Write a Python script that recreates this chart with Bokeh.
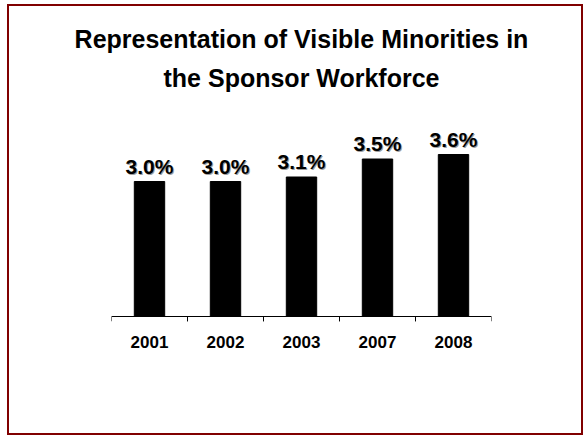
from bokeh.plotting import figure
from bokeh.models import ColumnDataSource, LabelSet, Span, Title, Range1d, FactorRange
from bokeh.core.properties import value
from bokeh.transform import dodge
from bokeh.embed import file_html
from bokeh.resources import INLINE

years = ["2001", "2002", "2003", "2007", "2008"]
values = [3.0, 3.0, 3.1, 3.5, 3.6]
labels = ["3.0%", "3.0%", "3.1%", "3.5%", "3.6%"]
title_lines = ["Representation of Visible Minorities in", "the Sponsor Workforce"]

FONT = "Liberation Sans"

src = ColumnDataSource(dict(years=years, values=values, labels=labels))

p = figure(x_range=FactorRange(*years, range_padding=0),
           y_range=Range1d(-0.111, 4.8),
           width=576, height=431,
           output_backend="svg", toolbar_location=None,
           min_border_left=102, min_border_right=94,
           min_border_bottom=116, min_border_top=94)
p.styles = {"border": "2px solid #800000", "margin-left": "7px", "margin-top": "4px"}

p.outline_line_color = None
p.grid.visible = False
p.yaxis.visible = False

p.vbar(x="years", top="values", bottom=0, width=0.4, source=src,
       fill_color="black", line_color="black")

# axis line and boundary ticks
p.add_layout(Span(location=0, dimension="width", line_color="black", line_width=1))
p.segment(x0=dodge("years", -0.5, range=p.x_range), x1=dodge("years", -0.5, range=p.x_range),
          y0=0, y1=-0.111, source=src, line_color="black", line_width=1)
p.segment(x0=dodge("years", 0.5, range=p.x_range), x1=dodge("years", 0.5, range=p.x_range),
          y0=0, y1=-0.111, source=src, line_color="black", line_width=1)

xa = p.xaxis[0]
xa.axis_line_color = None
xa.major_tick_line_color = None
xa.minor_tick_line_color = None
xa.major_tick_out = 0
xa.major_tick_in = 0
xa.major_label_standoff = 14
xa.major_label_text_font = FONT
xa.major_label_text_font_style = "bold"
xa.major_label_text_font_size = "17px"
xa.major_label_text_color = "black"

p.add_layout(LabelSet(x="years", y="values", text="labels", source=src,
                      text_align="center", text_baseline="alphabetic",
                      x_offset=1, y_offset=7,
                      text_font=value(FONT), text_font_style="bold", text_font_size="21px",
                      text_color="#a0a0a0"))
p.add_layout(LabelSet(x="years", y="values", text="labels", source=src,
                      text_align="center", text_baseline="alphabetic",
                      x_offset=0, y_offset=8,
                      text_font=value(FONT), text_font_style="bold", text_font_size="21px",
                      text_color="black"))

standoffs = [1, 17]
for line, so in reversed(list(zip(title_lines, standoffs))):
    p.add_layout(Title(text=line, align="center", standoff=so,
                       text_font=FONT, text_font_style="bold", text_font_size="25px",
                       text_line_height=1.0, text_color="black"), "above")

open("out.html", "w").write(file_html(p, INLINE))
